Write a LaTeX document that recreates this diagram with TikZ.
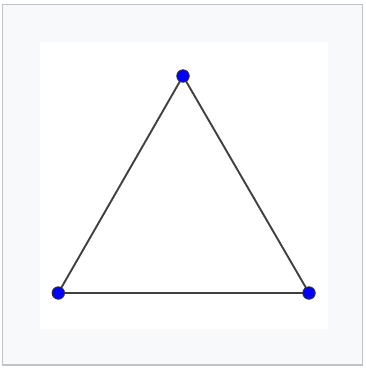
\documentclass[tikz,border=0pt]{standalone}
\begin{document}
\begin{tikzpicture}[x=1pt,y=-1pt,
  vdot/.style={circle,fill=blue,draw=black!80,line width=0.8pt,minimum size=12.5pt,inner sep=0pt},
  edge/.style={draw=black!75,line width=1.9pt}]
\useasboundingbox (0,0) rectangle (366,369);
\fill[white] (0,0) rectangle (366,369);
\draw[fill={rgb,255:red,248;green,249;blue,250},draw={rgb,255:red,190;green,194;blue,200},line width=1.2pt] (2.5,4.5) rectangle (362.5,365);
\fill[white] (40,42) rectangle (327.5,329);
\coordinate (A) at (183,76);
\coordinate (B) at (58.3,293);
\coordinate (C) at (309,293);
\draw[edge] (A) -- (B) -- (C) -- cycle;
\node[vdot] (a) at (A) {};
\node[vdot] (b) at (B) {};
\node[vdot] (c) at (C) {};
\end{tikzpicture}
\end{document}
